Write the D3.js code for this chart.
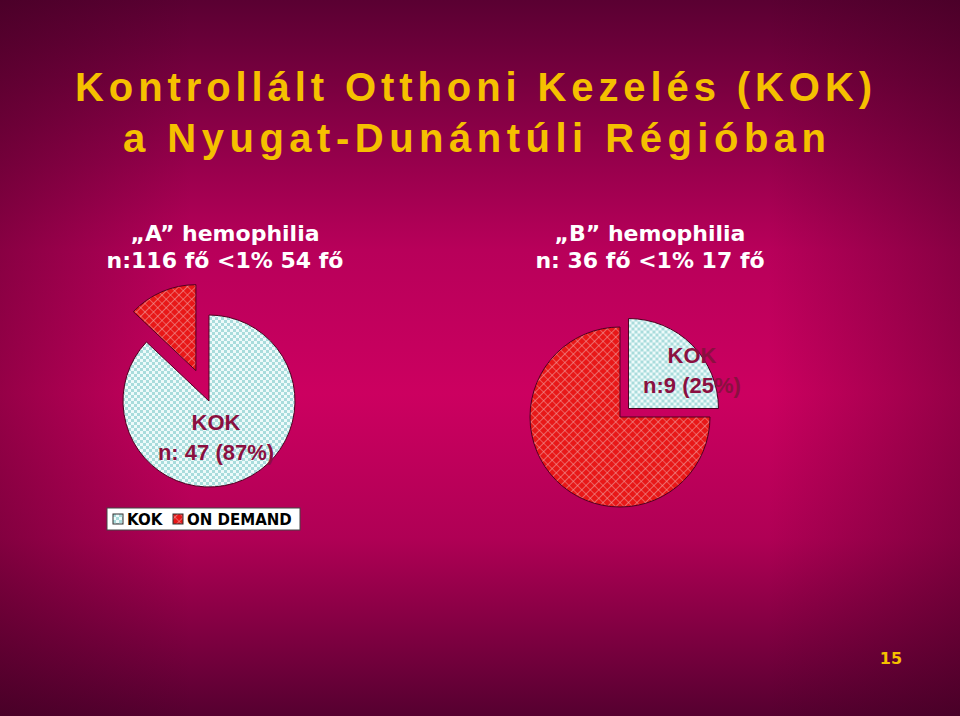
<!DOCTYPE html>
<html><head><meta charset="utf-8">
<script src="https://cdn.jsdelivr.net/npm/d3@7"></script>
<style>body{margin:0;overflow:hidden}</style>
</head><body>
<script>
// adatok
var kategoriak = ["KOK", "ON DEMAND"];
var pieA = [47, 7];      // 87% / 13%
var pieB = [9, 27];      // 25% / 75%
var cimek = ["Kontrollált Otthoni Kezelés (KOK)", "a Nyugat-Dunántúli Régióban"];
var alcimA = ["„A” hemophilia", "n:116 fő <1% 54 fő"];
var alcimB = ["„B” hemophilia", "n: 36 fő <1% 17 fő"];
var cimkeA = ["KOK", "n: 47 (87%)"];
var cimkeB = ["KOK", "n:9 (25%)"];

var W = 960, H = 716;
var svg = d3.select("body").append("svg").attr("width", W).attr("height", H);
var defs = svg.append("defs");

// hatter: fuggoleges + oldalso sotetites
var g = defs.append("linearGradient").attr("id", "bg").attr("x1", 0).attr("y1", 0).attr("x2", 0).attr("y2", 1);
[["0%", "#5a0032"], ["35%", "#b8005a"], ["55%", "#cc0060"], ["75%", "#b00055"], ["100%", "#560030"]].forEach(function(s) {
    g.append("stop").attr("offset", s[0]).attr("stop-color", s[1]);
});
var g2 = defs.append("linearGradient").attr("id", "side").attr("x1", 0).attr("y1", 0).attr("x2", 1).attr("y2", 0);
[["0%", 0.35], ["20%", 0], ["80%", 0], ["100%", 0.35]].forEach(function(s) {
    g2.append("stop").attr("offset", s[0]).attr("stop-color", "#300018").attr("stop-opacity", s[1]);
});
svg.append("rect").attr("width", W).attr("height", H).attr("fill", "url(#bg)");
svg.append("rect").attr("width", W).attr("height", H).attr("fill", "url(#side)");

// mintak
var p1 = defs.append("pattern").attr("id", "kok").attr("width", 6).attr("height", 6).attr("patternUnits", "userSpaceOnUse");
p1.append("rect").attr("width", 6).attr("height", 6).attr("fill", "#eefafa");
p1.append("rect").attr("width", 3).attr("height", 3).attr("fill", "#a9dcdc");
p1.append("rect").attr("x", 3).attr("y", 3).attr("width", 3).attr("height", 3).attr("fill", "#a9dcdc");
var p2 = defs.append("pattern").attr("id", "od").attr("width", 6).attr("height", 6).attr("patternUnits", "userSpaceOnUse")
    .attr("patternTransform", "rotate(45)");
p2.append("rect").attr("width", 6).attr("height", 6).attr("fill", "#e81818");
p2.append("path").attr("d", "M0,0H6M0,0V6").attr("stroke", "#f0a0a0").attr("stroke-width", 1.2);
var fills = ["url(#kok)", "url(#od)"];

svg.selectAll(".cim").data(cimek).enter().append("text")
    .attr("x", function(d, i) { return i ? 123 : 75; }).attr("y", function(d, i) { return 101 + i * 51; })
    .attr("fill", "#f5c000")
    .style("font", "bold 40px 'Liberation Sans', Arial").text(function(d) { return d; })
    .attr("textLength", function(d, i) { return i ? 703 : 797; });

function alcim(lines, x) {
    svg.selectAll(null).data(lines).enter().append("text")
	.attr("x", x).attr("y", function(d, i) { return 241 + i * 27; })
	.attr("text-anchor", "middle").attr("fill", "#fff")
	.style("font", "bold 22px 'DejaVu Sans'").text(function(d) { return d; });
}
alcim(alcimA, 225);
alcim(alcimB, 650);

function torta(data, cx, cy, r, explode, dist) {
    var pie = d3.pie().sort(null);
    var arc = d3.arc().innerRadius(0).outerRadius(r);
    var gg = svg.append("g").attr("transform", "translate(" + cx + "," + cy + ")");
    gg.selectAll("path").data(pie(data)).enter().append("path")
	.attr("d", arc)
	.attr("transform", function(d, i) {
	    if (i != explode) return null;
	    var a = (d.startAngle + d.endAngle) / 2;
	    return "translate(" + (Math.sin(a) * dist) + "," + (-Math.cos(a) * dist) + ")";
	})
	.attr("fill", function(d, i) { return fills[i]; })
	.attr("stroke", "#500020").attr("stroke-width", 1);
}
torta(pieA, 209, 401, 86, 1, 33);
torta(pieB, 620, 417, 90, 0, 12);

function cimke(lines, x, y) {
    svg.selectAll(null).data(lines).enter().append("text")
	.attr("x", x).attr("y", function(d, i) { return y + i * 30; })
	.attr("text-anchor", "middle").attr("fill", "#8a1040")
	.style("font", "bold 22px 'Liberation Sans', Arial").text(function(d) { return d; });
}
cimke(cimkeA, 216, 430);
cimke(cimkeB, 692, 363);

// jelmagyarazat
var leg = svg.append("g").attr("transform", "translate(107,508)");
leg.append("rect").attr("width", 193).attr("height", 22).attr("fill", "#fff").attr("stroke", "#444");
var lx = [6, 66];
kategoriak.forEach(function(k, i) {
    leg.append("rect").attr("x", lx[i]).attr("y", 6).attr("width", 10).attr("height", 10)
	.attr("fill", fills[i]).attr("stroke", "#333");
    leg.append("text").attr("x", lx[i] + 14).attr("y", 17).attr("fill", "#000")
	.style("font", "bold 15px 'DejaVu Sans'").text(k);
});

svg.append("text").attr("x", 891).attr("y", 664).attr("text-anchor", "middle").attr("fill", "#f5c000")
    .style("font", "bold 16px 'DejaVu Sans'").text("15");
</script>
</body></html>
